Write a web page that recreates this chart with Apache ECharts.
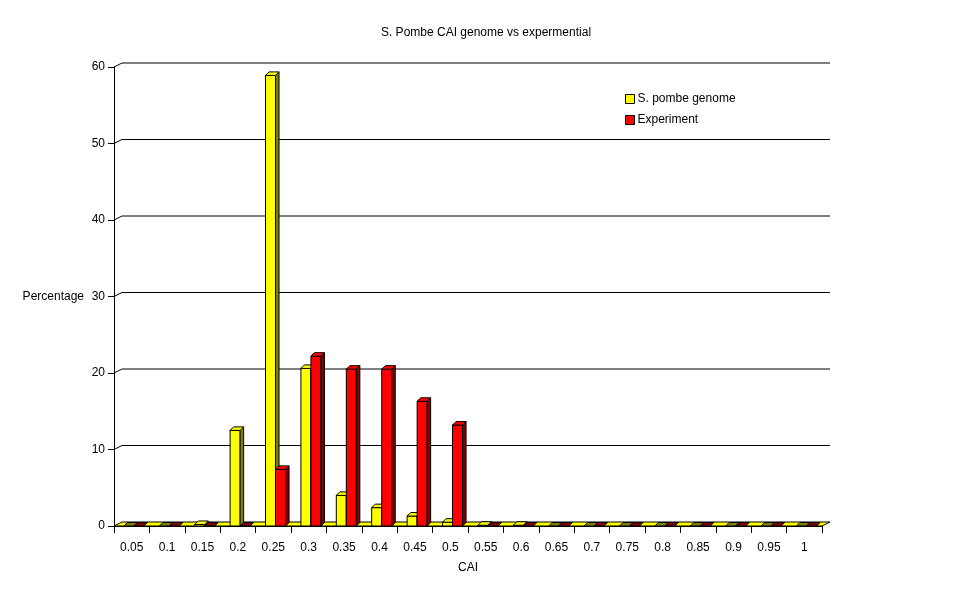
<!DOCTYPE html>
<html><head><meta charset="utf-8">
<script src="https://cdn.jsdelivr.net/npm/echarts@6/dist/echarts.min.js"></script>
<style>html,body{margin:0;padding:0;background:#fff}#c{width:977px;height:601px}</style>
</head><body><div id="c"></div>
<script>
const categories = ['0.05','0.1','0.15','0.2','0.25','0.3','0.35','0.4','0.45','0.5','0.55','0.6','0.65','0.7','0.75','0.8','0.85','0.9','0.95','1'];
const genome =     [0, 0, 0.2, 12.5, 58.9, 20.6, 4.0, 2.4, 1.3, 0.5, 0.1, 0.1, 0, 0, 0, 0, 0, 0, 0, 0];
const experiment = [0, 0, 0, 0, 7.4, 22.2, 20.5, 20.5, 16.3, 13.2, 0, 0, 0, 0, 0, 0, 0, 0, 0, 0];
const yTicks = [10, 20, 30, 40, 50, 60];

const FONT = 'Liberation Sans, Arial, sans-serif';
const DX = 8, DY = -4;

function makeBar(offsetFrac, front, side, top) {
  return function (params, api) {
    const idx = api.value(0), v = api.value(1);
    const c = api.coord([idx, v]);
    const b = api.coord([idx, 0]);
    const bw = api.size([1, 0])[0];
    const x0 = c[0] + offsetFrac * bw, w = 0.283 * bw;
    const d = 3.5;
    const yT = c[1], yB = b[1];
    const st = {stroke: '#000', lineWidth: 1};
    const ch = [];
    if (yB - yT > 0.5) {
      ch.push({type: 'rect', shape: {x: x0, y: yT, width: w, height: yB - yT}, style: Object.assign({fill: front}, st)});
      ch.push({type: 'polygon', shape: {points: [[x0 + w, yT], [x0 + w + d, yT - d], [x0 + w + d, yB - d], [x0 + w, yB]]}, style: Object.assign({fill: side}, st)});
    }
    ch.push({type: 'polygon', shape: {points: [[x0, yT], [x0 + d, yT - d], [x0 + w + d, yT - d], [x0 + w, yT]]}, style: Object.assign({fill: yB - yT > 0.5 ? top : side}, st)});
    return {type: 'group', children: ch};
  };
}

const chart = echarts.init(document.getElementById('c'), null, {renderer: 'canvas'});
chart.setOption({
  animation: false,
  backgroundColor: '#fff',
  title: {text: 'S. Pombe CAI genome vs expermential', left: 481, top: 22, textAlign: 'center',
    textStyle: {fontFamily: FONT, fontSize: 12, fontWeight: 'normal', color: '#000'}},
  legend: {
    left: 625, top: 93, orient: 'vertical', itemGap: 9, itemWidth: 9, itemHeight: 9, icon: 'rect', padding: 0,
    textStyle: {fontFamily: FONT, fontSize: 12, color: '#000', padding: [0, 0, 0, -2]},
    data: [
      {name: 'S. pombe genome', itemStyle: {color: '#ffff00', borderColor: '#000', borderWidth: 1}},
      {name: 'Experiment', itemStyle: {color: '#ff0000', borderColor: '#000', borderWidth: 1}}
    ]
  },
  grid: {left: 114, right: 155, top: 67, bottom: 75, containLabel: false},
  xAxis: {
    type: 'category', data: categories, boundaryGap: true,
    name: 'CAI', nameLocation: 'middle', nameGap: 36,
    nameTextStyle: {fontFamily: FONT, fontSize: 12, color: '#000'},
    axisLine: {show: true, lineStyle: {color: '#000', width: 1}},
    axisTick: {show: true, alignWithLabel: false, length: 7, lineStyle: {color: '#000'}},
    axisLabel: {fontFamily: FONT, fontSize: 12, color: '#000', margin: 16, interval: 0},
    splitLine: {show: false}
  },
  yAxis: {
    type: 'value', min: 0, max: 60, interval: 10,
    name: 'Percentage', nameLocation: 'middle', nameRotate: 0, nameGap: 30,
    nameTextStyle: {fontFamily: FONT, fontSize: 12, color: '#000', align: 'right'},
    axisLine: {show: true, lineStyle: {color: '#000', width: 1}},
    axisTick: {show: true, length: 6, lineStyle: {color: '#000'}},
    axisLabel: {fontFamily: FONT, fontSize: 12, color: '#000', margin: 9},
    splitLine: {show: false}
  },
  series: [
    {
      type: 'custom', name: 'grid', silent: true, z: 1,
      data: yTicks.map(v => [0, v]),
      renderItem: function (params, api) {
        const cs = params.coordSys;
        const y = api.coord([0, api.value(1)])[1];
        const x = cs.x;
        return {type: 'polyline', shape: {points: [[x, y], [x + DX, y + DY], [x + cs.width + DX, y + DY]]},
          style: {stroke: '#000', lineWidth: 1, fill: null}};
      }
    },
    {
      type: 'custom', name: 'floor', silent: true, z: 2,
      data: [[0, 0]],
      renderItem: function (params, api) {
        const cs = params.coordSys;
        const y = api.coord([0, 0])[1];
        const x = cs.x, w = cs.width;
        return {type: 'polygon', shape: {points: [[x, y], [x + DX, y + DY], [x + w + DX, y + DY], [x + w, y]]},
          style: {fill: '#ffff00', stroke: '#000', lineWidth: 1}};
      }
    },
    {
      type: 'custom', name: 'S. pombe genome', z: 3,
      itemStyle: {color: '#ffff00'},
      data: genome.map((v, i) => [i, v]),
      encode: {x: 0, y: 1},
      renderItem: makeBar(-0.22, '#ffff00', '#808000', '#ffff00')
    },
    {
      type: 'custom', name: 'Experiment', z: 4,
      itemStyle: {color: '#ff0000'},
      data: experiment.map((v, i) => [i, v]),
      encode: {x: 0, y: 1},
      renderItem: makeBar(0.063, '#ff0000', '#800000', '#ff0000')
    }
  ]
});
</script></body></html>
